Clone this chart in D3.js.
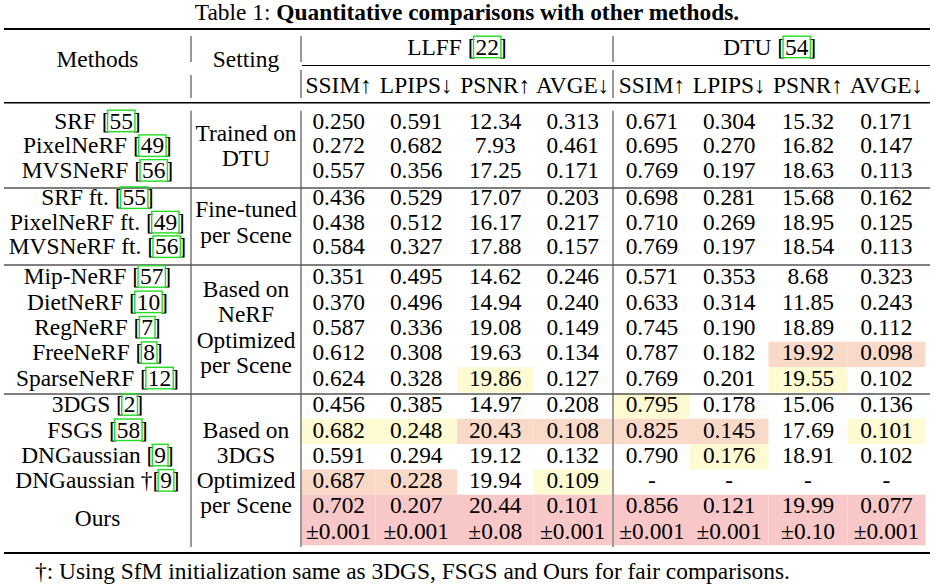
<!DOCTYPE html>
<html><head><meta charset="utf-8">
<script src="https://cdn.jsdelivr.net/npm/d3@7"></script>
<style>
body{margin:0;background:#fff}
svg text{font-family:"Liberation Serif","Times New Roman",serif;font-size:23.4px;fill:#000}
</style>
</head><body>
<svg id="c" width="934" height="588"></svg>
<script>
// ---------------- data ----------------
const methods = ["SRF","PixelNeRF","MVSNeRF","SRF ft.","PixelNeRF ft.","MVSNeRF ft.",
  "Mip-NeRF","DietNeRF","RegNeRF","FreeNeRF","SparseNeRF",
  "3DGS","FSGS","DNGaussian","DNGaussian †","Ours"];
const refs = [55,49,56,55,49,56,57,10,7,8,12,2,58,9,9,null];
const sectionSizes = [3,3,5,5];
const settings = [["Trained on","DTU"],["Fine-tuned","per Scene"],
  ["Based on","NeRF","Optimized","per Scene"],["Based on","3DGS","Optimized","per Scene"]];
const datasets = ["LLFF","DTU"];
const datasetRefs = [22,54];
const metrics = ["SSIM↑","LPIPS↓","PSNR↑","AVGE↓"];
const metricDigits = [3,3,2,3];
// LLFF: SSIM, LPIPS, PSNR, AVGE
const llff = [
  [0.250,0.591,12.34,0.313],[0.272,0.682,7.93,0.461],[0.557,0.356,17.25,0.171],
  [0.436,0.529,17.07,0.203],[0.438,0.512,16.17,0.217],[0.584,0.327,17.88,0.157],
  [0.351,0.495,14.62,0.246],[0.370,0.496,14.94,0.240],[0.587,0.336,19.08,0.149],
  [0.612,0.308,19.63,0.134],[0.624,0.328,19.86,0.127],
  [0.456,0.385,14.97,0.208],[0.682,0.248,20.43,0.108],[0.591,0.294,19.12,0.132],
  [0.687,0.228,19.94,0.109],[0.702,0.207,20.44,0.101]
];
// DTU: SSIM, LPIPS, PSNR, AVGE
const dtu = [
  [0.671,0.304,15.32,0.171],[0.695,0.270,16.82,0.147],[0.769,0.197,18.63,0.113],
  [0.698,0.281,15.68,0.162],[0.710,0.269,18.95,0.125],[0.769,0.197,18.54,0.113],
  [0.571,0.353,8.68,0.323],[0.633,0.314,11.85,0.243],[0.745,0.190,18.89,0.112],
  [0.787,0.182,19.92,0.098],[0.769,0.201,19.55,0.102],
  [0.795,0.178,15.06,0.136],[0.825,0.145,17.69,0.101],[0.790,0.176,18.91,0.102],
  [null,null,null,null],[0.856,0.121,19.99,0.077]
];
const oursStdLLFF = [0.001,0.001,0.08,0.001];
const oursStdDTU = [0.001,0.001,0.10,0.001];
// highlight rank per cell (0 none, 1 best, 2 second, 3 third): LLFF x4 then DTU x4
const ranks = [
  [0,0,0,0,0,0,0,0],[0,0,0,0,0,0,0,0],[0,0,0,0,0,0,0,0],
  [0,0,0,0,0,0,0,0],[0,0,0,0,0,0,0,0],[0,0,0,0,0,0,0,0],
  [0,0,0,0,0,0,0,0],[0,0,0,0,0,0,0,0],[0,0,0,0,0,0,0,0],
  [0,0,0,0,0,0,2,2],[0,0,3,0,0,0,3,0],
  [0,0,0,0,3,0,0,0],[3,3,2,2,2,2,0,3],[0,0,0,0,0,3,0,0],
  [2,2,0,3,0,0,0,0],[1,1,1,1,1,1,1,1]
];
const title = "Table 1: ";
const titleBold = "Quantitative comparisons with other methods.";
const footnote = "†: Using SfM initialization same as 3DGS, FSGS and Ours for fair comparisons.";

// ---------------- layout ----------------
const svg = d3.select("#c");
const rankColor = d3.scaleOrdinal().domain([1,2,3]).range(["#f8c8c8","#f9d9c8","#fefad2"]);
const secFirst = [121,197.7,276.5,404.5], secStep = [24.7,24.5,25.4,25.3];
const secScales = secFirst.map((f,i)=>d3.scaleLinear().domain([0,1]).range([f,f+secStep[i]]));
const colEdges = [[302,375.5,457,533.5,612],[614,690,768.5,847.5,925.5]];
const xMethods = 97.5, xSetting = 246;
const capHalf = 7.7;
const refBoxColor = "#22dd22";

// row -> section mapping
const rowSec = [], rowIdx = [];
sectionSizes.forEach((n,s)=>{for(let i=0;i<n;i++){rowSec.push(s);rowIdx.push(i);}});
const rowY = r => secScales[rowSec[r]](rowIdx[r]);

const gBg = svg.append("g"), gLines = svg.append("g"), gText = svg.append("g"), gBox = svg.append("g");

// highlight cells
ranks.forEach((row,r)=>{
  row.forEach((rk,c)=>{
    if(!rk) return;
    const d = Math.floor(c/4), k = c%4;
    const lines = methods[r]==="Ours" ? 2 : 1;
    const s = rowSec[r];
    gBg.append("rect")
      .attr("x",colEdges[d][k]).attr("width",colEdges[d][k+1]-colEdges[d][k])
      .attr("y",rowY(r)-11).attr("height",secStep[s]*lines)
      .attr("fill",rankColor(rk));
  });
});

// helper: text with boxed reference
function refText(g,x,y,pre,ref,post){
  const t = g.append("text").attr("x",x).attr("y",y).attr("text-anchor","middle")
    .text(pre+ref+post);
  const node = t.node();
  const i0 = pre.length, i1 = pre.length+String(ref).length-1;
  const xa = node.getStartPositionOfChar(i0).x, xb = node.getEndPositionOfChar(i1).x;
  gBox.append("rect").attr("x",xa-2).attr("y",y-18.5).attr("width",xb-xa+4).attr("height",21.5)
    .attr("fill","none").attr("stroke",refBoxColor).attr("stroke-width",1.4);
  return t;
}

// title
const tt = gText.append("text").attr("x",467).attr("y",20).attr("text-anchor","middle");
tt.append("tspan").text(title);
tt.append("tspan").attr("font-weight","bold").text(titleBold);

// header
gText.append("text").attr("x",xMethods).attr("y",59+capHalf).attr("text-anchor","middle").text("Methods");
gText.append("text").attr("x",xSetting).attr("y",59+capHalf).attr("text-anchor","middle").text("Setting");
datasets.forEach((ds,d)=>{
  const cx = (colEdges[d][0]+colEdges[d][4])/2;
  refText(gText,cx,47+capHalf,ds+" [",datasetRefs[d],"]");
  metrics.forEach((m,k)=>{
    gText.append("text").attr("x",(colEdges[d][k]+colEdges[d][k+1])/2).attr("y",85+capHalf)
      .attr("text-anchor","middle").text(m);
  });
});

// method names
methods.forEach((m,r)=>{
  if(refs[r]==null){
    const y = (rowY(r)+rowY(r)+secStep[rowSec[r]])/2;
    gText.append("text").attr("x",xMethods).attr("y",y+capHalf).attr("text-anchor","middle").text(m);
  } else {
    const sep = m.endsWith("†") ? "" : " ";
    refText(gText,xMethods,rowY(r)+capHalf,m+sep+"[",refs[r],"]");
  }
});

// settings
settings.forEach((lines,s)=>{
  const n = sectionSizes[s] + (s===3?1:0);
  const mid = (secScales[s](0)+secScales[s](n-1))/2;
  lines.forEach((l,i)=>{
    const y = mid + (i-(lines.length-1)/2)*25.3;
    gText.append("text").attr("x",xSetting).attr("y",y+capHalf).attr("text-anchor","middle").text(l);
  });
});

// values
[llff,dtu].forEach((tbl,d)=>{
  tbl.forEach((row,r)=>{
    row.forEach((v,k)=>{
      const txt = v==null ? "-" : d3.format("."+metricDigits[k]+"f")(v);
      gText.append("text").attr("x",(colEdges[d][k]+colEdges[d][k+1])/2).attr("y",rowY(r)+capHalf)
        .attr("text-anchor","middle").text(txt);
    });
  });
  const std = d===0 ? oursStdLLFF : oursStdDTU;
  const r = methods.length-1;
  std.forEach((v,k)=>{
    gText.append("text").attr("x",(colEdges[d][k]+colEdges[d][k+1])/2).attr("y",rowY(r)+secStep[3]+capHalf)
      .attr("text-anchor","middle").text("±"+d3.format("."+metricDigits[k]+"f")(v));
  });
});

// footnote
gText.append("text").attr("x",35).attr("y",579).text(footnote);

// rules
const hr = (y,x1,x2,w)=>gLines.append("line").attr("x1",x1).attr("x2",x2).attr("y1",y).attr("y2",y)
  .attr("stroke","#000").attr("stroke-width",w);
hr(29,4,930,2);
hr(65.5,302,930,1);
hr(102.7,4,930,1.4);
[188,265,394].forEach(y=>hr(y,4,930,1));
hr(553,4,930,2);
const vr = (x,y1,y2)=>gLines.append("line").attr("x1",x).attr("x2",x).attr("y1",y1).attr("y2",y2)
  .attr("stroke","#555").attr("stroke-width",1.2);
[191,301,613].forEach(x=>{
  vr(x,36,62);
  vr(x,x===191?75:70,98);
  vr(x,110.7,547);
});
</script>
</body></html>
